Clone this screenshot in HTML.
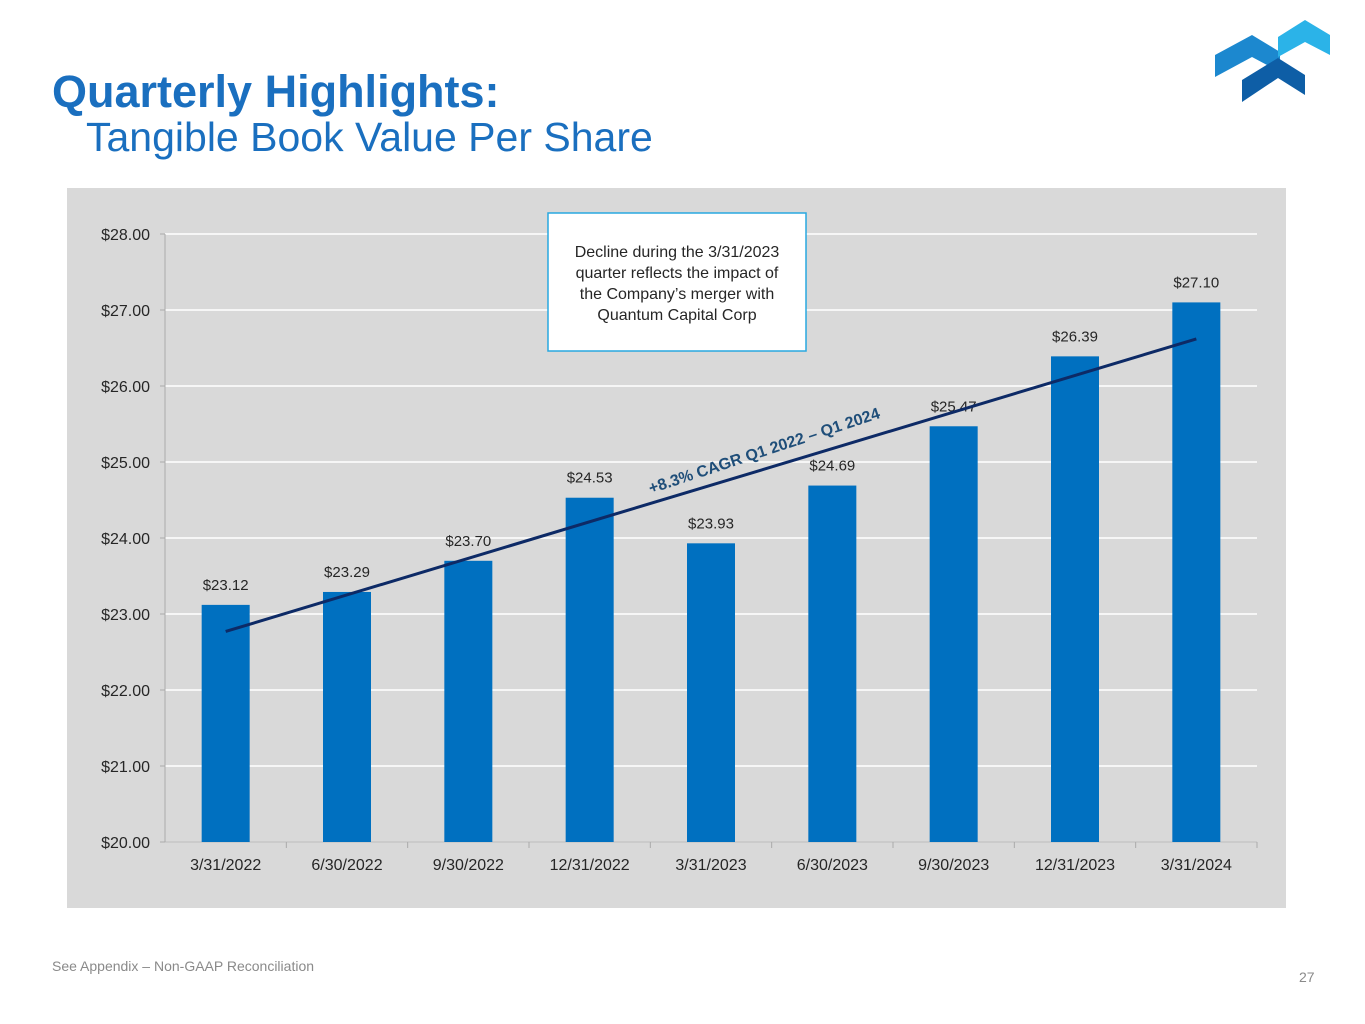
<!DOCTYPE html>
<html><head><meta charset="utf-8"><style>
body{margin:0;width:1365px;height:1024px;background:#fff;font-family:"Liberation Sans",Arial,sans-serif;position:relative;overflow:hidden}
.t1{position:absolute;left:52px;top:66px;font-size:45px;font-weight:bold;color:#1a6fbf}
.t2{position:absolute;left:86px;top:114px;font-size:41px;color:#1a6fbf}
.foot{position:absolute;left:52px;top:958px;font-size:14px;color:#8a8a8a}
.pg{position:absolute;left:1299px;top:969px;font-size:14px;color:#8a8a8a}
</style></head><body>
<div class="t1">Quarterly Highlights:</div>
<div class="t2">Tangible Book Value Per Share</div>
<svg style="position:absolute;left:1200px;top:10px" width="150" height="100">
<polygon points="15,45 52,25 80,42 80,62 52,47 15,67" fill="#1c88cf"/>
<polygon points="78,27 105,10 130,25 130,45 105,32 78,47" fill="#2bb3e8"/>
<polygon points="42,70 78,48 105,65 105,85 78,68 42,92" fill="#0e5ea6"/>
</svg>
<svg id="chart" style="position:absolute;left:0;top:0" width="1365" height="1024"></svg>
<div class="foot">See Appendix – Non-GAAP Reconciliation</div>
<div class="pg">27</div>
<script>
const categories=["3/31/2022","6/30/2022","9/30/2022","12/31/2022","3/31/2023","6/30/2023","9/30/2023","12/31/2023","3/31/2024"];
const values=[23.12,23.29,23.70,24.53,23.93,24.69,25.47,26.39,27.10];
const yTicks=[20,21,22,23,24,25,26,27,28];
const trendStart=22.77, trendEnd=26.62;
const NS="http://www.w3.org/2000/svg";
const svg=document.getElementById('chart');
const X0=165,X1=1257,Y0=842,Y1=234;
const band=(X1-X0)/categories.length;
const xc=i=>X0+band*(i+0.5);
const y=v=>Y0-(v-20)/(28-20)*(Y0-Y1);
function el(t,a,txt){const e=document.createElementNS(NS,t);for(const k in a)e.setAttribute(k,a[k]);if(txt!==undefined)e.textContent=txt;svg.appendChild(e);return e;}
let bg=el('rect',{x:67,y:188,width:1219,height:720,fill:'#d9d9d9'});


yTicks.forEach(t=>{
 let g=el('line',{x1:X0,x2:X1,y1:y(t),y2:y(t),stroke:'#fff','stroke-width':1.5});
 
 
 let tk=el('line',{x1:X0-5,x2:X0,y1:y(t),y2:y(t),stroke:'#aaa'});
 
 
 let l=el('text',{x:150,y:y(t)+6,'text-anchor':'end','font-size':16,fill:'#262626'},'$'+t.toFixed(2));
 
 
});
let ya=el('line',{x1:X0,x2:X0,y1:Y1,y2:Y0,stroke:'#aaa'});


let xa=el('line',{x1:X0,x2:X1,y1:Y0,y2:Y0,stroke:'#aaa'});


categories.forEach((c,i)=>{
 let tk=el('line',{x1:X0+band*(i+1),x2:X0+band*(i+1),y1:Y0,y2:Y0+6,stroke:'#aaa'});
 
 
 let b=el('rect',{x:xc(i)-24,y:y(values[i]),width:48,height:Y0-y(values[i]),fill:'#0070c0'});
 
 
 let v=el('text',{x:xc(i),y:y(values[i])-15,'text-anchor':'middle','font-size':15,fill:'#262626'},'$'+values[i].toFixed(2));
 
 
 let l=el('text',{x:xc(i),y:Y0+28,'text-anchor':'middle','font-size':16,fill:'#262626'},c);
 
 
});
let tl=el('line',{x1:xc(0),y1:y(trendStart),x2:xc(8),y2:y(trendEnd),stroke:'#0d2a66','stroke-width':3});


const ang=Math.atan2(y(trendEnd)-y(trendStart),xc(8)-xc(0))*180/Math.PI-1.5;
let ct=el('text',{x:764,y:456,'text-anchor':'middle','font-size':16,'font-weight':'bold',fill:'#1f4e79',transform:`rotate(${ang} 764 450)`},'+8.3% CAGR Q1 2022 – Q1 2024');


let box=el('rect',{x:548,y:213,width:258,height:138,fill:'#fff',stroke:'#29a8e0','stroke-width':1.5});


["Decline during the 3/31/2023","quarter reflects the impact of","the Company’s merger with","Quantum Capital Corp"].forEach((s,i)=>{
 let t=el('text',{x:677,y:257+i*21,'text-anchor':'middle','font-size':16,fill:'#262626'},s);
 
 
});
</script>
</body></html>
